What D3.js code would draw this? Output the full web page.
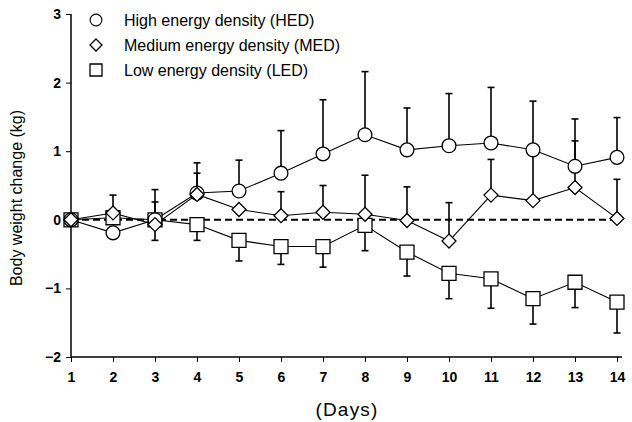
<!DOCTYPE html>
<html><head><meta charset="utf-8">
<script src="https://cdn.jsdelivr.net/npm/d3@7"></script>
<style>body{margin:0;background:#fff}svg{display:block}text{font-family:"Liberation Sans",Arial,sans-serif;fill:#000}</style>
</head><body><svg id="c" width="632" height="422"></svg>
<script>
const days = [1,2,3,4,5,6,7,8,9,10,11,12,13,14];
const yTicks = [-2,-1,0,1,2,3];
const hed = [0,-0.19,0,0.39,0.42,0.68,0.96,1.24,1.02,1.08,1.12,1.02,0.78,0.91];
const hedUpper = [null,null,0.44,0.83,0.87,1.3,1.75,2.16,1.63,1.84,1.93,1.73,1.47,1.49];
const med = [0,0.1,-0.07,0.37,0.15,0.06,0.11,0.08,-0.01,-0.31,0.36,0.28,0.47,0.02];
const medUpper = [null,0.36,0.26,0.68,null,0.41,0.5,0.65,0.48,0.25,0.88,1.0,1.15,0.59];
const led = [0,0.03,0,-0.07,-0.3,-0.39,-0.39,-0.08,-0.47,-0.78,-0.86,-1.15,-0.91,-1.2];
const ledLower = [null,null,-0.3,-0.3,-0.6,-0.65,-0.69,-0.45,-0.82,-1.15,-1.29,-1.52,-1.28,-1.65];
const legendLabels = ["High energy density (HED)","Medium energy density (MED)","Low energy density (LED)"];

const svg = d3.select("#c");
const x = d3.scaleLinear().domain([1,14]).range([71,617]);
const y = d3.scaleLinear().domain([-2,3]).range([357,14]);

// axes
const yAxis = svg.append("g").attr("transform","translate(71,0)")
  .call(d3.axisLeft(y).tickValues(yTicks).tickSize(5).tickPadding(5).tickFormat(d3.format("d")));
yAxis.select(".domain").attr("d","M0,14V357").attr("stroke","#000").attr("stroke-width",1.5);
yAxis.selectAll("text").attr("font-size",14).attr("font-weight","bold").attr("font-family","Liberation Sans, Arial, sans-serif");

const xAxis = svg.append("g").attr("transform","translate(0,357)")
  .call(d3.axisBottom(x).tickValues(days).tickSize(5).tickPadding(10).tickFormat(d3.format("d")));
xAxis.select(".domain").attr("d","M71,0H622").attr("stroke","#000").attr("stroke-width",1.5);
xAxis.selectAll("text").attr("font-size",14).attr("font-weight","bold").attr("font-family","Liberation Sans, Arial, sans-serif");

// zero dashed line
svg.append("line").attr("x1",x(1)).attr("x2",x(14)).attr("y1",y(0)).attr("y2",y(0))
  .attr("stroke","#000").attr("stroke-width",2).attr("stroke-dasharray","7,4");

function errBars(vals, ends, w){
  const g = svg.append("g").attr("stroke","#000").attr("stroke-width",w);
  days.forEach((d,i)=>{
    if(ends[i]==null) return;
    g.append("line").attr("x1",x(d)).attr("x2",x(d)).attr("y1",y(vals[i])).attr("y2",y(ends[i]));
    g.append("line").attr("x1",x(d)-3.5).attr("x2",x(d)+3.5).attr("y1",y(ends[i])).attr("y2",y(ends[i]));
  });
}
errBars(hed,hedUpper,1.6);
errBars(med,medUpper,1.6);
errBars(led,ledLower,1.6);

const line = d3.line().x((d,i)=>x(days[i])).y(d=>y(d));
[hed,med,led].forEach(s=>svg.append("path").attr("d",line(s)).attr("fill","none").attr("stroke","#000").attr("stroke-width",1.1));

const circ = d3.symbol().type(d3.symbolCircle).size(150);
const diam = "M0,-7L7,0L0,7L-7,0Z";
const sq = "M-7,-7H7V7H-7Z";
function marks(s, path){
  svg.append("g").selectAll("path").data(s).join("path")
    .attr("d",path).attr("transform",(d,i)=>`translate(${x(days[i])},${y(d)})`)
    .attr("fill","#fff").attr("stroke","#000").attr("stroke-width",1.3);
}
marks(led, sq);
marks(hed, circ());
marks(med, diam);

// legend
const leg = svg.append("g");
const shapes = [circ(), "M0,-6L6,0L0,6L-6,0Z", "M-6,-6H6V6H-6Z"];
legendLabels.forEach((t,i)=>{
  const yy = 20 + i*25;
  leg.append("path").attr("d",shapes[i]).attr("transform",`translate(96,${yy}) scale(${i==0?0.85:1})`)
    .attr("fill","#fff").attr("stroke","#000").attr("stroke-width",1.3);
  leg.append("text").attr("x",124).attr("y",yy+5.5).attr("font-size",16).text(t);
});

svg.append("text").attr("transform","translate(22,198) rotate(-90)").attr("text-anchor","middle")
  .attr("font-size",16).text("Body weight change (kg)");
svg.append("text").attr("x",347).attr("y",416).attr("text-anchor","middle").attr("font-size",19)
  .attr("letter-spacing",1.2).text("(Days)");
</script></body></html>
